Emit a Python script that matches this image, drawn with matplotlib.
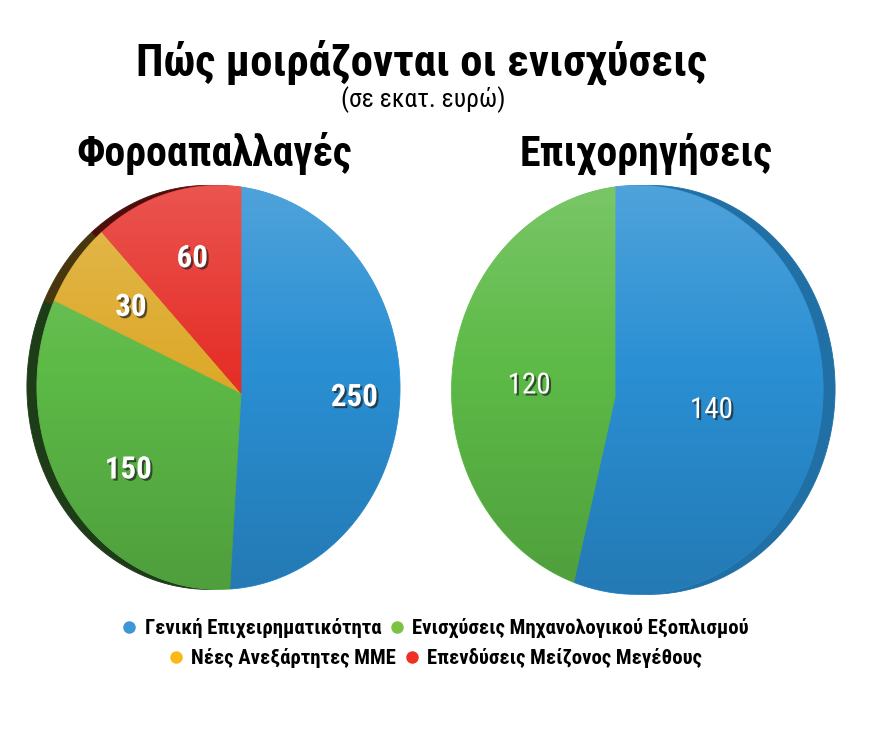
import numpy as np
import matplotlib
matplotlib.use('Agg')
import matplotlib.pyplot as plt
from matplotlib import font_manager, patheffects
from matplotlib.font_manager import FontProperties
from matplotlib.lines import Line2D
from matplotlib.patches import Polygon

# --- δεδομένα ---
title = 'Πώς μοιράζονται οι ενισχύσεις'
subtitle = '(σε εκατ. ευρώ)'
pie_titles = ['Φοροαπαλλαγές', 'Επιχορηγήσεις']
categories = ['Γενική Επιχειρηματικότητα', 'Ενισχύσεις Μηχανολογικού Εξοπλισμού',
              'Νέες Ανεξάρτητες ΜΜΕ', 'Επενδύσεις Μείζονος Μεγέθους']
tax_values = [250, 150, 30, 60]      # Φοροαπαλλαγές
grant_values = [140, 120]            # Επιχορηγήσεις

slice_colors = ['#2a8fd3', '#5dba47', '#ddaa2b', '#e6302a']
legend_colors = ['#3d97d7', '#7cc243', '#fcb816', '#ee3124']

W, H = 876, 740

# perspective of each pie face: cx, cy, a, d, c, e (pixels)
geo_left = (241, 393, 178.7, 200.3, 0.124, -0.0275)
geo_right = (615, 397, 183.0, 202.8, -0.12, -0.0345)


def _num(v, table, default):
    if isinstance(v, (int, float)):
        return v
    return table.get(str(v).lower(), default)


def pick_font(weight):
    best, best_score = None, 1e9
    for f in font_manager.fontManager.ttflist:
        name = f.name
        if f.style != 'normal' or 'Mono' in name or 'CJK' in name:
            continue
        fam_pen = None
        for fam, pen in (('Roboto', 0.0), ('Liberation Sans', 0.3), ('Noto Sans', 0.2),
                         ('Open Sans', 0.3), ('DejaVu Sans', 0.5)):
            if name.startswith(fam):
                fam_pen = pen
                break
        if fam_pen is None:
            continue
        st = _num(f.stretch, font_manager.stretch_dict, 500)
        if 'ExtraCondensed' in name or 'Extra Condensed' in name:
            st = 200
        elif 'SemiCondensed' in name or 'Semi Condensed' in name:
            st = 400
        elif 'Condensed' in name or 'Narrow' in name:
            st = min(st, 300)
        if st >= 500:
            continue
        w = _num(f.weight, font_manager.weight_dict, 400)
        score = abs(w - weight) / 100 + abs(st - 300) / 100 + fam_pen
        if 'Display' in name:
            score += 0.1
        if score < best_score:
            best, best_score = f, score
    if best is None:
        return FontProperties(family='DejaVu Sans', stretch='condensed',
                              weight='bold' if weight >= 600 else 'normal')
    return FontProperties(fname=best.fname)


heavy_fp = pick_font(900)
bold_fp = pick_font(700)
reg_fp = pick_font(400)

fig = plt.figure(figsize=(W / 100, H / 100), dpi=100)
ax = fig.add_axes([0, 0, 1, 1])
renderer = fig.canvas.get_renderer()


def fit_size(s, fp, width):
    # font size (pt) that makes s about `width` pixels wide
    p = fp.copy()
    p.set_size(100)
    w, h, d = renderer.get_text_width_height_descent(s, p, ismath=False)
    return 100 * width / w


def sized(fp, size):
    p = fp.copy()
    p.set_size(size)
    return p


def project(x, y, geo):
    cx, cy, a, d, c, e = geo
    den = 1 + c * x + e * y
    return cx + a * x / den, cy - d * y / den


def draw_pie(values, geo, rim_dx, rim_dark, ld, label_fp):
    wedges, texts = ax.pie(values, colors=slice_colors[:len(values)], startangle=90,
                           counterclock=False, labels=[str(v) for v in values],
                           labeldistance=ld)
    for w in wedges:
        t = np.radians(np.linspace(w.theta1, w.theta2, 150))
        xs = np.r_[0, w.r * np.cos(t)]
        ys = np.r_[0, w.r * np.sin(t)]
        px, py = project(xs, ys, geo)
        col = np.array(w.get_facecolor()[:3])
        dark = col * rim_dark
        ax.add_patch(Polygon(np.c_[px + rim_dx, py], closed=True, fc=dark, ec=dark,
                             lw=0.6, zorder=1))
        ax.add_patch(Polygon(np.c_[px, py], closed=True, fc=col, ec=col,
                             lw=0.6, zorder=2))
        w.remove()

    # light on top, shade at the bottom
    t = np.linspace(0, 2 * np.pi, 400)
    ox, oy = project(np.cos(t), np.sin(t), geo)
    face = Polygon(np.c_[ox, oy], closed=True, transform=ax.transData)
    g = np.linspace(0, 1, 256)[:, None]
    rgba = np.zeros((256, 1, 4))
    rgba[..., :3] = np.where(g < 0.45, 1.0, 0.0)[..., None]
    rgba[..., 3] = np.where(g < 0.45, (0.45 - g) / 0.45 * 0.18, (g - 0.45) / 0.55 * 0.15)
    im = ax.imshow(rgba, extent=(ox.min(), ox.max(), oy.max(), oy.min()),
                   origin='upper', interpolation='bilinear', zorder=3)
    im.set_clip_path(face)
    return texts


left_label_fp = sized(bold_fp, fit_size('250', bold_fp, 47))
right_label_fp = sized(reg_fp, fit_size('140', reg_fp, 43))

shadow = [patheffects.withSimplePatchShadow(offset=(1.5, -1.5), shadow_rgbFace='#202020',
                                            alpha=0.7)]
for values, geo, rim_dx, rim_dark, ld, lfp in (
        (tax_values, geo_left, -10, 0.32, 0.69, left_label_fp),
        (grant_values, geo_right, 12, 0.78, 0.5, right_label_fp)):
    texts = draw_pie(values, geo, rim_dx, rim_dark, ld, lfp)
    for txt in texts:
        x, y = txt.get_position()
        txt.set_position(project(x, y, geo))
        txt.set(ha='center', va='center', color='white', fontproperties=lfp, zorder=5,
                path_effects=shadow)

# titles
ax.text(422, 76, title, ha='center', va='baseline', color='black',
        fontproperties=sized(heavy_fp, fit_size(title, heavy_fp, 571)))
ax.text(423, 107, subtitle, ha='center', va='baseline', color='black',
        fontproperties=sized(reg_fp, fit_size(subtitle, reg_fp, 164)))
sec_fp = sized(heavy_fp, fit_size(pie_titles[0], heavy_fp, 275))
ax.text(214, 166, pie_titles[0], ha='center', va='baseline', color='black', fontproperties=sec_fp)
ax.text(646, 166, pie_titles[1], ha='center', va='baseline', color='black', fontproperties=sec_fp)

# legend, two centred rows
leg_fp = sized(bold_fp, fit_size(categories[1], bold_fp, 336))
for idx, y in (([0, 1], 628), ([2, 3], 658)):
    handles = [Line2D([], [], ls='', marker='o', ms=9, mfc=legend_colors[i], mec='none')
               for i in idx]
    fig.legend(handles, [categories[i] for i in idx], loc='center',
               bbox_to_anchor=(436 / W, 1 - y / H), ncol=len(idx), frameon=False,
               prop=leg_fp, handlelength=0.6, handletextpad=0.45, columnspacing=0.45,
               borderpad=0, borderaxespad=0)

ax.set_xlim(0, W)
ax.set_ylim(H, 0)
ax.set_aspect('auto')
ax.axis('off')

fig.savefig('out.png', dpi=100, facecolor='white')
